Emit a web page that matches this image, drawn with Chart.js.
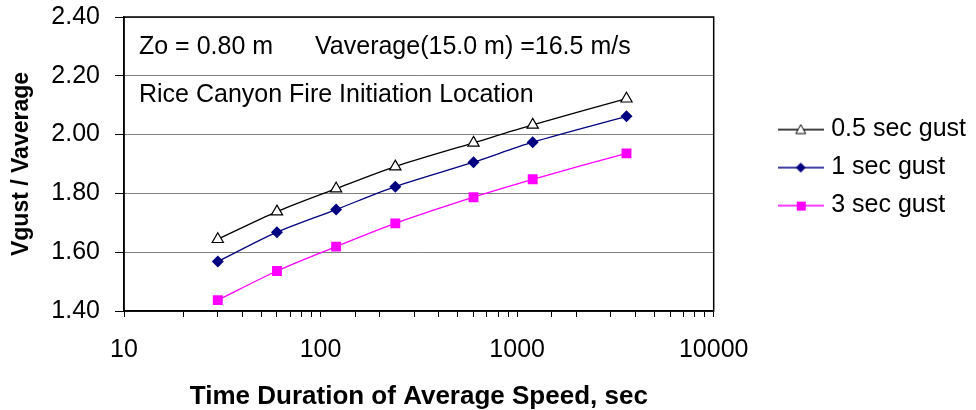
<!DOCTYPE html>
<html>
<head>
<meta charset="utf-8">
<script src="https://cdn.jsdelivr.net/npm/chart.js@4.4.1/dist/chart.umd.min.js"></script>
<style>
  html, body { margin: 0; padding: 0; background: #fff; }
  #wrap { width: 976px; height: 410px; position: relative; }
</style>
</head>
<body>
<div id="wrap"><canvas id="gustChart"></canvas></div>
<script>
// durations (sec) and gust factor series
const durations = [30, 60, 120, 240, 600, 1200, 3600];
const gustHalfSec = [1.644, 1.738, 1.816, 1.891, 1.972, 2.033, 2.122];
const gustOneSec = [1.568, 1.668, 1.745, 1.823, 1.906, 1.974, 2.062];
const gustThreeSec = [1.437, 1.536, 1.619, 1.698, 1.787, 1.848, 1.936];
const seriesLabels = ['0.5 sec gust', '1 sec gust', '3 sec gust'];
const xTickLabels = [10, 100, 1000, 10000];
const yTickLabels = [1.4, 1.6, 1.8, 2.0, 2.2, 2.4];

const FONT = 'Liberation Sans, Arial, sans-serif';

function toPoints(values) {
  return durations.map((d, i) => ({ x: d, y: values[i] }));
}

// small canvas with line + marker for the legend (Excel style)
function legendSwatch(color, shape, fill) {
  const c = document.createElement('canvas');
  c.width = 46;
  c.height = 16;
  const g = c.getContext('2d');
  g.strokeStyle = color;
  g.lineWidth = 1.5;
  g.beginPath();
  g.moveTo(0, 8);
  g.lineTo(46, 8);
  g.stroke();
  g.fillStyle = fill;
  g.beginPath();
  if (shape === 'triangle') {
    g.moveTo(23, 3);
    g.lineTo(28, 12);
    g.lineTo(18, 12);
    g.closePath();
    g.fill();
    g.lineWidth = 1;
    g.stroke();
  } else if (shape === 'diamond') {
    g.moveTo(23, 3);
    g.lineTo(28, 8);
    g.lineTo(23, 13);
    g.lineTo(18, 8);
    g.closePath();
    g.fill();
  } else {
    g.rect(19, 4, 9, 9);
    g.fill();
  }
  return c;
}

const swatches = [
  legendSwatch('#000000', 'triangle', '#ffffff'),
  legendSwatch('#000080', 'diamond', '#000080'),
  legendSwatch('#ff00ff', 'square', '#ff00ff')
];

// text inside the plot area and the frame around it
const plotNotes = {
  id: 'plotNotes',
  afterDatasetsDraw(chart) {
    const { ctx, chartArea } = chart;
    ctx.save();
    ctx.strokeStyle = '#000';
    ctx.lineWidth = 1.5;
    ctx.strokeRect(chartArea.left, chartArea.top, chartArea.right - chartArea.left, chartArea.bottom - chartArea.top);
    ctx.fillStyle = '#000';
    ctx.font = '25px ' + FONT;
    ctx.textBaseline = 'middle';
    ctx.textAlign = 'left';
    ctx.fillText('Zo = 0.80 m', chartArea.left + 15, chartArea.top + 30);
    ctx.fillText('Vaverage(15.0 m) =16.5 m/s', chartArea.left + 191, chartArea.top + 30);
    ctx.fillText('Rice Canyon Fire Initiation Location', chartArea.left + 15, chartArea.top + 78);
    ctx.restore();
  }
};

const ctx = document.getElementById('gustChart').getContext('2d');

new Chart(ctx, {
  type: 'line',
  data: {
    datasets: [
      {
        label: seriesLabels[0],
        data: toPoints(gustHalfSec),
        borderColor: '#000000',
        backgroundColor: '#ffffff',
        borderWidth: 1.3,
        pointStyle: 'triangle',
        pointRadius: 6.5,
        pointBorderWidth: 1.2,
        pointBorderColor: '#000000',
        pointBackgroundColor: '#ffffff',
        tension: 0.3
      },
      {
        label: seriesLabels[1],
        data: toPoints(gustOneSec),
        borderColor: '#000080',
        backgroundColor: '#000080',
        borderWidth: 1.3,
        pointStyle: 'rectRot',
        pointRadius: 6,
        pointBorderWidth: 0,
        pointBackgroundColor: '#000080',
        tension: 0.3
      },
      {
        label: seriesLabels[2],
        data: toPoints(gustThreeSec),
        borderColor: '#ff00ff',
        backgroundColor: '#ff00ff',
        borderWidth: 1.3,
        pointStyle: 'rect',
        pointRadius: 7,
        pointBorderWidth: 0,
        pointBackgroundColor: '#ff00ff',
        tension: 0.3
      }
    ]
  },
  options: {
    responsive: true,
    maintainAspectRatio: false,
    animation: false,
    layout: { padding: { top: 17, right: 0, bottom: 0, left: 0 } },
    scales: {
      x: {
        type: 'logarithmic',
        position: 'bottom',
        min: xTickLabels[0],
        max: xTickLabels[xTickLabels.length - 1],
        afterFit(scale) { scale.height = 99; },
        grid: { drawOnChartArea: false, tickLength: 6, tickColor: '#000', color: '#000' },
        border: { color: '#000', width: 1.5 },
        ticks: {
          autoSkip: false,
          maxRotation: 0,
          padding: 18,
          color: '#000',
          font: { family: FONT, size: 25 },
          callback: (v) => xTickLabels.includes(v) ? String(v) : ''
        },
        title: {
          display: true,
          text: 'Time Duration of Average Speed, sec',
          color: '#000',
          font: { family: FONT, size: 26, weight: 'bold', lineHeight: 1 },
          padding: { top: 0, bottom: 0 }
        }
      },
      y: {
        position: 'left',
        min: yTickLabels[0],
        max: yTickLabels[yTickLabels.length - 1],
        afterFit(scale) { scale.width = 124; },
        afterBuildTicks(scale) { scale.ticks = yTickLabels.map(v => ({ value: v })); },
        grid: { color: '#808080', lineWidth: 1, tickLength: 9, tickColor: '#000' },
        border: { color: '#000', width: 1.5 },
        ticks: {
          padding: 15,
          color: '#000',
          font: { family: FONT, size: 25, lineHeight: 0.05 },
          callback: (v) => Number(v).toFixed(2)
        },
        title: {
          display: true,
          text: 'Vgust / Vaverage',
          color: '#000',
          font: { family: FONT, size: 23, weight: 'bold' },
          padding: { top: 8, bottom: 0 }
        }
      },
      spacer: {
        position: 'right',
        afterFit(scale) { scale.width = 56; },
        grid: { drawOnChartArea: false, drawTicks: false },
        border: { display: false },
        ticks: { display: false }
      }
    },
    plugins: {
      legend: {
        position: 'right',
        fullSize: false,
        maxWidth: 240,
        title: {
          display: true,
          text: ' ',
          font: { family: FONT, size: 6 },
          padding: 0
        },
        labels: {
          usePointStyle: true,
          pointStyleWidth: 36,
          padding: 13,
          color: '#000',
          font: { family: FONT, size: 25 },
          generateLabels(chart) {
            return chart.data.datasets.map((ds, i) => ({
              text: ds.label,
              pointStyle: swatches[i],
              fillStyle: ds.backgroundColor,
              strokeStyle: ds.borderColor,
              lineWidth: 0,
              hidden: false,
              datasetIndex: i,
              fontColor: '#000'
            }));
          }
        }
      },
      tooltip: { enabled: false }
    }
  },
  plugins: [plotNotes]
});
</script>
</body>
</html>
